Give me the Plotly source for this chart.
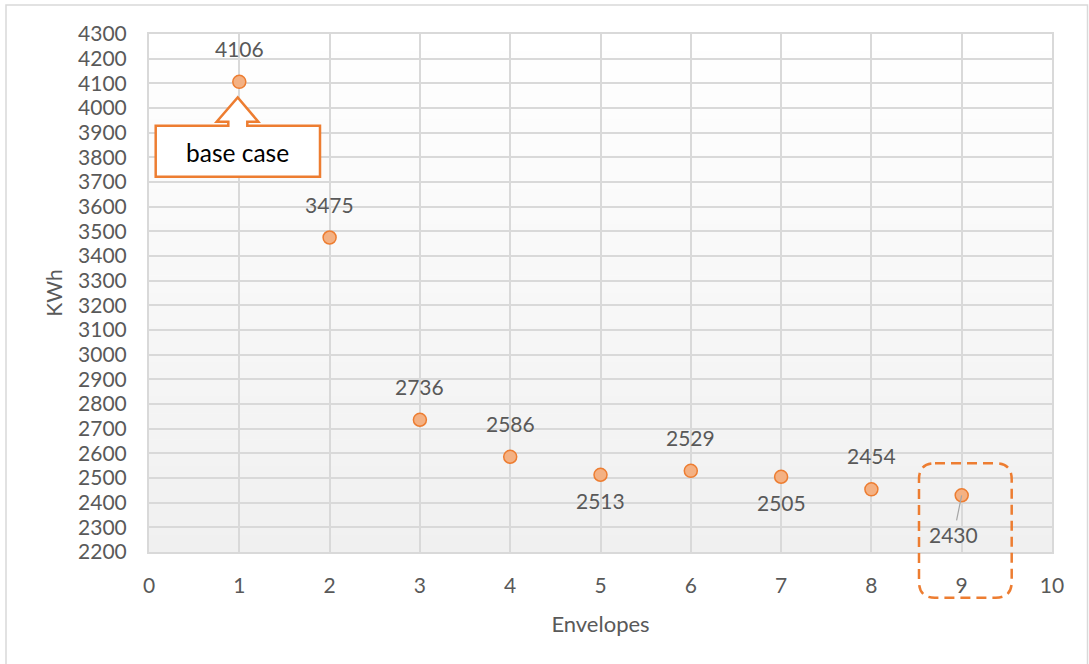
import plotly.graph_objects as go

# Energy use per envelope option
envelopes = [1, 2, 3, 4, 5, 6, 7, 8, 9]
kwh = [4106, 3475, 2736, 2586, 2513, 2529, 2505, 2454, 2430]
label_side = ["above", "above", "above", "above", "below", "above", "below", "above", "leader"]

x_ticks = list(range(0, 11))
y_ticks = list(range(2200, 4301, 100))

W, H = 1089, 664
ML, MR, MT, MB = 149, 37, 34, 112
PW, PH = W - ML - MR, H - MT - MB

ORANGE = "#ed7d31"
FILL = "#f4b183"
GREY_TEXT = "#595959"
GRID = "#d9d9d9"
FONT = "Lato"
FS = 21


def px(xp):
    return (xp - ML) / PW


def py(yp):
    return (H - MB - yp) / PH


fig = go.Figure()

fig.add_trace(go.Scatter(
    x=envelopes, y=kwh, mode="markers",
    marker=dict(size=13, color=FILL, line=dict(color=ORANGE, width=1.5)),
    hoverinfo="x+y", showlegend=False,
))

shapes = []

# vertical white-to-grey gradient behind the plot area
n_bands = 60
for i in range(n_bands):
    t = i / (n_bands - 1)
    v = round(255 - t * (255 - 240))
    shapes.append(dict(
        type="rect", xref="x domain", yref="y domain",
        x0=0, x1=1, y0=1 - (i + 1) / n_bands, y1=1 - i / n_bands + 0.001,
        fillcolor=f"rgb({v},{v},{v})", line=dict(width=0), layer="below",
    ))

# outer chart frame
shapes.append(dict(
    type="rect", xref="paper", yref="paper",
    x0=px(6), x1=px(1087.5), y0=py(720), y1=py(5),
    line=dict(color=GRID, width=1.5), fillcolor="rgba(0,0,0,0)", layer="below",
))

# callout box with upward pointer
cpts = [(155.7, 125.7), (228.3, 125.7), (228.3, 121.7), (216.7, 121.7), (237.7, 97.5),
        (258.3, 121.7), (247.3, 121.7), (247.3, 125.7), (320, 125.7), (320, 176.7),
        (155.7, 176.7)]
path = "M " + " L ".join(f"{px(a):.5f},{py(b):.5f}" for a, b in cpts) + " Z"
shapes.append(dict(
    type="path", xref="paper", yref="paper", path=path,
    fillcolor="#ffffff", opacity=1, line=dict(color=ORANGE, width=2.5), layer="above",
))

# dashed rounded highlight box
bx0, by0, bx1, by1, r = 919, 463.3, 1011.7, 597.7, 16
rr = [
    ("M", bx0 + r, by0), ("L", bx1 - r, by0), ("Q", bx1, by0, bx1, by0 + r),
    ("L", bx1, by1 - r), ("Q", bx1, by1, bx1 - r, by1), ("L", bx0 + r, by1),
    ("Q", bx0, by1, bx0, by1 - r), ("L", bx0, by0 + r), ("Q", bx0, by0, bx0 + r, by0),
]
segs = []
for s in rr:
    cmd, vals = s[0], s[1:]
    coords = []
    for k in range(0, len(vals), 2):
        coords.append(f"{px(vals[k]):.5f},{py(vals[k + 1]):.5f}")
    segs.append(cmd + " " + " ".join(coords))
shapes.append(dict(
    type="path", xref="paper", yref="paper", path=" ".join(segs) + " Z",
    line=dict(color=ORANGE, width=2.5, dash="10px,6px"), fillcolor="rgba(0,0,0,0)",
    layer="above",
))

annotations = []
for xv, yv, side in zip(envelopes, kwh, label_side):
    base = dict(x=xv, y=yv, xref="x", yref="y", text=str(yv), xanchor="center",
                font=dict(family=FONT, size=FS, color=GREY_TEXT))
    if side == "above":
        annotations.append(dict(base, showarrow=False, yanchor="bottom", yshift=19))
    elif side == "below":
        annotations.append(dict(base, showarrow=False, yanchor="top", yshift=-11))
    else:
        annotations.append(dict(base, showarrow=True, arrowhead=0, arrowwidth=1.2,
                                arrowcolor="#a6a6a6", ax=-8, ay=39, standoff=0))

annotations.append(dict(
    x=px(237.8), y=py(152), xref="paper", yref="paper", text="base case",
    xanchor="center", yanchor="middle",
    showarrow=False, font=dict(family=FONT, size=24.5, color="#000000"),
))

fig.update_layout(
    width=W, height=H,
    margin=dict(l=ML, r=MR, t=MT, b=MB, autoexpand=False),
    paper_bgcolor="white", plot_bgcolor="white",
    font=dict(family=FONT, size=FS, color=GREY_TEXT),
    shapes=shapes, annotations=annotations,
    xaxis=dict(
        range=[0, 10], tickvals=x_ticks, ticktext=[str(v) for v in x_ticks],
        showgrid=True, gridcolor=GRID, gridwidth=2, zeroline=False,
        showline=True, linecolor=GRID, linewidth=2, mirror=True,
        ticks="", ticklabelstandoff=14,
        tickfont=dict(family=FONT, size=FS, color=GREY_TEXT),
        title=dict(text="Envelopes", standoff=20,
                   font=dict(family=FONT, size=22, color=GREY_TEXT)),
    ),
    yaxis=dict(
        range=[2200, 4300], tickvals=y_ticks, ticktext=[str(v) for v in y_ticks],
        showgrid=True, gridcolor=GRID, gridwidth=2, zeroline=False,
        showline=True, linecolor=GRID, linewidth=2, mirror=True,
        ticks="", ticklabelstandoff=16,
        tickfont=dict(family=FONT, size=FS, color=GREY_TEXT),
        title=dict(text="KWh", standoff=10,
                   font=dict(family=FONT, size=FS, color=GREY_TEXT)),
    ),
)

fig.write_html("out.html")
